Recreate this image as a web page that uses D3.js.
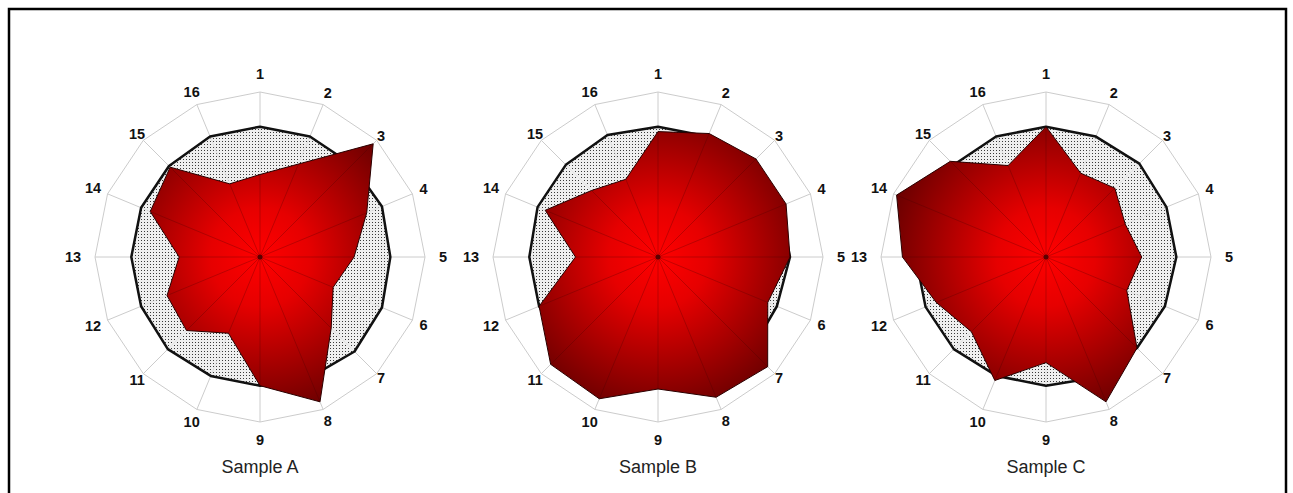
<!DOCTYPE html>
<html>
<head>
<meta charset="utf-8">
<script src="https://cdn.jsdelivr.net/npm/d3@7/dist/d3.min.js"></script>
<style>
	body { margin: 0; background: #fff; }
	svg { display: block; }
	.axis-label { font-family: 'Liberation Sans', Arial, sans-serif; font-weight: bold; font-size: 14.5px; fill: #111; }
	.sample-title { font-family: 'Liberation Sans', Arial, sans-serif; font-size: 18px; fill: #222; }
</style>
</head>
<body>
<div id="radar-charts"></div>
<script>
// Global vars
var WIDTH = 1293;
var HEIGHT = 493;

// categories (16 spokes) and sample names
var AXES = ['1', '2', '3', '4', '5', '6', '7', '8', '9', '10', '11', '12', '13', '14', '15', '16'];
var SAMPLES = ['Sample A', 'Sample B', 'Sample C'];

// reference profile (dotted area), % of full scale
var REF_A = [79, 79, 79, 80, 79, 80, 81, 79, 78, 78, 79, 78, 78, 78, 78, 79];
var REF_B = [79, 79, 79, 80, 80, 78, 80, 79, 79, 79, 79, 78, 78, 79, 79, 80];
var REF_C = [79, 79, 80, 79, 79, 78, 78, 79, 78, 78, 79, 79, 79, 79, 79, 79];

// sample values (red area), % of full scale
var VAL_A = [50, 61, 97, 70, 57, 48, 61, 95, 78, 50, 63, 61, 49, 72, 77, 48];
var VAL_B = [76, 81, 84, 84, 80, 72, 94, 92, 80, 93, 92, 78, 50, 74, 57, 51];
var VAL_C = [79, 55, 59, 52, 58, 53, 78, 95, 64, 81, 64, 72, 87, 98, 82, 60];

/*
 * Render the graphic.
 */
var render = function() {
	var seriesRef = [REF_A, REF_B, REF_C];
	var seriesVal = [VAL_A, VAL_B, VAL_C];

	var outerRadius = 165;
	var centerY = 257;

	var xScale = d3.scaleOrdinal()
		.domain(SAMPLES)
		.range([260, 658, 1046]);

	var rScale = d3.scaleLinear()
		.domain([0, 100])
		.range([0, outerRadius]);

	var angleScale = d3.scalePoint()
		.domain(AXES)
		.range([0, 2 * Math.PI * (AXES.length - 1) / AXES.length]);

	var svg = d3.select('#radar-charts')
		.append('svg')
		.attr('width', WIDTH)
		.attr('height', HEIGHT);

	var defs = svg.append('defs');

	// stipple pattern for reference area
	var pattern = defs.append('pattern')
		.attr('id', 'dots')
		.attr('patternUnits', 'userSpaceOnUse')
		.attr('width', 3)
		.attr('height', 3);
	pattern.append('rect')
		.attr('width', 3)
		.attr('height', 3)
		.attr('fill', '#efefef');
	pattern.append('rect')
		.attr('x', 1)
		.attr('y', 1)
		.attr('width', 1)
		.attr('height', 1)
		.attr('fill', '#3a3a3a');

	// frame
	svg.append('rect')
		.attr('x', 9)
		.attr('y', 9)
		.attr('width', 1277)
		.attr('height', 520)
		.attr('fill', 'none')
		.attr('stroke', '#000')
		.attr('stroke-width', 2.5);

	var point = function(axis, value) {
		var a = angleScale(axis);
		var r = rScale(value);
		return [Math.sin(a) * r, -Math.cos(a) * r];
	};

	var radarLine = d3.lineRadial()
		.angle(function(d, i) { return angleScale(AXES[i]); })
		.radius(function(d) { return rScale(d); })
		.curve(d3.curveLinearClosed);

	SAMPLES.forEach(function(name, s) {
		var gradId = 'red-grad-' + s;
		var grad = defs.append('radialGradient')
			.attr('id', gradId)
			.attr('gradientUnits', 'userSpaceOnUse')
			.attr('cx', 0)
			.attr('cy', 0)
			.attr('r', outerRadius);
		grad.append('stop').attr('offset', '0%').attr('stop-color', '#ff0000');
		grad.append('stop').attr('offset', '30%').attr('stop-color', '#e60000');
		grad.append('stop').attr('offset', '100%').attr('stop-color', '#660000');

		var chart = svg.append('g')
			.attr('transform', 'translate(' + xScale(name) + ',' + centerY + ')');

		var full = AXES.map(function() { return 100; });

		// outer ring
		chart.append('path')
			.attr('d', radarLine(full))
			.attr('fill', 'none')
			.attr('stroke', '#cccccc')
			.attr('stroke-width', 1);

		// spokes
		chart.append('g')
			.selectAll('line')
			.data(AXES)
			.enter()
			.append('line')
			.attr('x1', 0)
			.attr('y1', 0)
			.attr('x2', function(d) { return point(d, 100)[0]; })
			.attr('y2', function(d) { return point(d, 100)[1]; })
			.attr('stroke', '#cccccc')
			.attr('stroke-width', 1);

		// reference area
		chart.append('path')
			.attr('d', radarLine(seriesRef[s]))
			.attr('fill', 'url(#dots)');

		chart.append('g')
			.selectAll('line')
			.data(AXES)
			.enter()
			.append('line')
			.attr('x1', 0)
			.attr('y1', 0)
			.attr('x2', function(d, i) { return point(d, seriesRef[s][i])[0]; })
			.attr('y2', function(d, i) { return point(d, seriesRef[s][i])[1]; })
			.attr('stroke', '#e2e2e2')
			.attr('stroke-width', 1);

		chart.append('path')
			.attr('d', radarLine(seriesRef[s]))
			.attr('fill', 'none')
			.attr('stroke', '#111')
			.attr('stroke-width', 2.5)
			.attr('stroke-linejoin', 'round');

		// sample area
		chart.append('path')
			.attr('d', radarLine(seriesVal[s]))
			.attr('fill', 'url(#' + gradId + ')')
			.attr('stroke', '#2a0000')
			.attr('stroke-width', 1);

		// seams
		chart.append('g')
			.selectAll('line')
			.data(AXES)
			.enter()
			.append('line')
			.attr('x1', 0)
			.attr('y1', 0)
			.attr('x2', function(d, i) { return point(d, seriesVal[s][i])[0]; })
			.attr('y2', function(d, i) { return point(d, seriesVal[s][i])[1]; })
			.attr('stroke', 'rgba(70,0,0,0.28)')
			.attr('stroke-width', 1);

		chart.append('circle')
			.attr('r', 2.5)
			.attr('fill', '#5a0000');

		// axis labels
		chart.append('g')
			.selectAll('text')
			.data(AXES)
			.enter()
			.append('text')
			.attr('class', 'axis-label')
			.attr('text-anchor', 'middle')
			.attr('dominant-baseline', 'central')
			.attr('x', function(d) {
				var a = angleScale(d);
				var c = Math.cos(2 * a);
				var r = 171 + 12 * c * c + (d.length > 1 ? 4 * Math.abs(Math.sin(a)) : 0);
				return Math.sin(a) * r;
			})
			.attr('y', function(d) {
				var a = angleScale(d);
				var c = Math.cos(2 * a);
				var r = 171 + 12 * c * c + (d.length > 1 ? 4 * Math.abs(Math.sin(a)) : 0);
				return -Math.cos(a) * r;
			})
			.text(function(d) { return d; });

		// title
		chart.append('text')
			.attr('class', 'sample-title')
			.attr('text-anchor', 'middle')
			.attr('x', 0)
			.attr('y', 473 - centerY)
			.text(name);
	});
};

window.onload = render;
</script>
</body>
</html>
